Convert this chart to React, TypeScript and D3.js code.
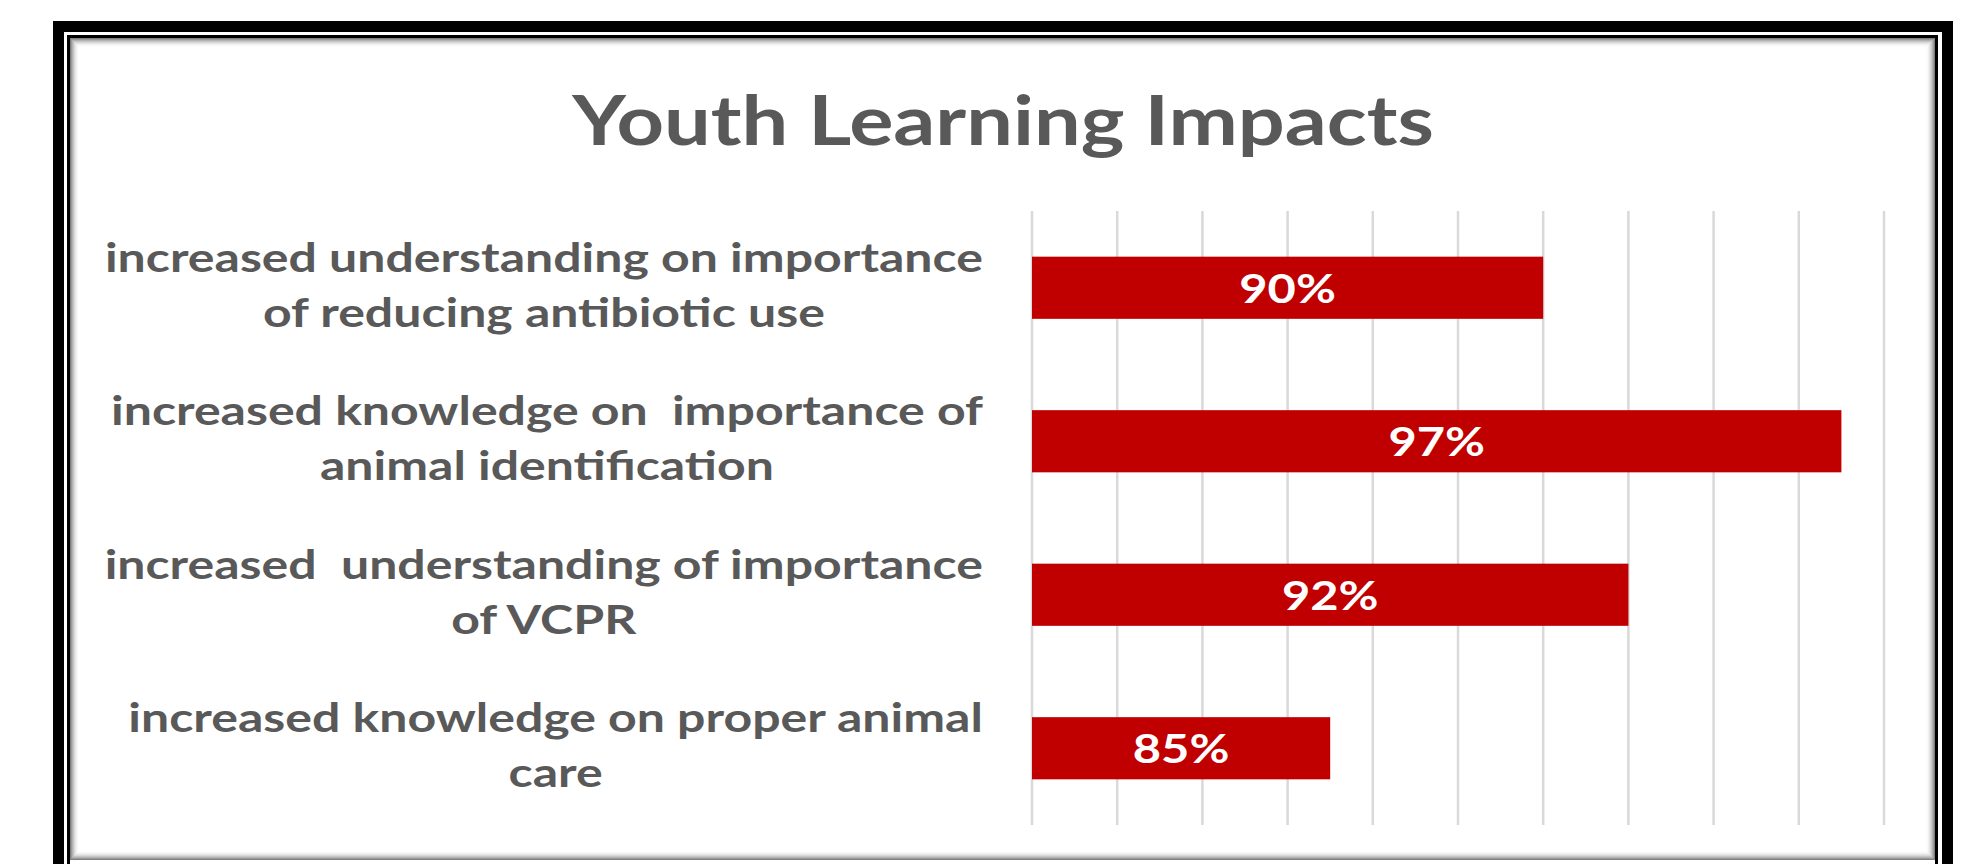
import * as d3 from "d3";
import React, {useEffect, useRef} from "react";

// chart content, top to bottom
const title = "Youth Learning Impacts";
const categories = [
  "increased understanding on importance\nof reducing antibiotic use",
  "increased knowledge on  importance of\nanimal identification",
  "increased  understanding of importance\nof VCPR",
  "increased knowledge on proper animal\ncare",
];
const values = [0.90, 0.97, 0.92, 0.85];
const axisDomain = [0.78, 0.98];
const gridStep = 0.02;

const W = 1984;
const H = 864;

const App: React.FC = () => {
  const svgRef = useRef<SVGSVGElement | null>(null);

  useEffect(() => {
    if (!svgRef.current) {
      return
    }
    const svg = d3.select(svgRef.current);
    svg.selectAll("*").remove();

    const font = "Lato, 'Open Sans', sans-serif";
    const grey = "#595959";
    // the source picture is stretched sideways, so text is widened to match
    const titleStretch = 1.2;
    const labelStretch = 1.25;
    const valueStretch = 1.19;

    // frame: thick black border, thin black line, shadowed panel
    svg.append("rect")
      .attr("x", 58.5).attr("y", 26.5)
      .attr("width", 1889).attr("height", 900)
      .attr("fill", "none").attr("stroke", "#000").attr("stroke-width", 11);
    svg.append("rect")
      .attr("x", 68.5).attr("y", 36.5)
      .attr("width", 1868).attr("height", 900)
      .attr("fill", "none").attr("stroke", "#000").attr("stroke-width", 3);

    const panel = {x: 70, y: 38, w: 1865, h: 822};
    svg.append("rect")
      .attr("x", panel.x).attr("y", panel.y)
      .attr("width", panel.w).attr("height", panel.h)
      .attr("fill", "#fff");
    d3.range(9).forEach(i => {
      svg.append("rect")
        .attr("x", panel.x + i + 0.5).attr("y", panel.y + i + 0.5)
        .attr("width", panel.w - 2 * i - 1).attr("height", panel.h - 2 * i - 1)
        .attr("fill", "none")
        .attr("stroke", "#000")
        .attr("stroke-opacity", 0.5 * Math.pow(1 - i / 9, 2));
    });

    svg.append("text")
      .attr("transform", `translate(1003,145) scale(${titleStretch},1)`)
      .attr("text-anchor", "middle")
      .attr("font-family", font).attr("font-weight", 700)
      .attr("font-size", 69).attr("fill", grey)
      .text(title);

    const plot = {left: 1032, right: 1884, top: 211, bottom: 825};

    const x = d3.scaleLinear().domain(axisDomain).range([plot.left, plot.right]);
    const y = d3.scaleBand<number>()
      .domain(d3.range(categories.length))
      .range([plot.top, plot.bottom])
      .paddingInner(0.595)
      .paddingOuter(0.2975);

    const ticks = d3.range(axisDomain[0], axisDomain[1] + gridStep / 2, gridStep);
    svg.append("g")
      .selectAll("line")
      .data(ticks)
      .enter().append("line")
      .attr("x1", d => x(d)).attr("x2", d => x(d))
      .attr("y1", plot.top).attr("y2", plot.bottom)
      .attr("stroke", "#d9d9d9").attr("stroke-width", 2.5);

    svg.append("g")
      .selectAll("rect")
      .data(values)
      .enter().append("rect")
      .attr("x", x(axisDomain[0]))
      .attr("y", (_, i) => y(i)!)
      .attr("width", d => x(d) - x(axisDomain[0]))
      .attr("height", y.bandwidth())
      .attr("fill", "#c00000");

    svg.append("g")
      .selectAll("text")
      .data(values)
      .enter().append("text")
      .attr("transform", (d, i) =>
        `translate(${(x(d) + x(axisDomain[0])) / 2},${y(i)! + y.bandwidth() / 2 + 15}) scale(${valueStretch},1)`)
      .attr("text-anchor", "middle")
      .attr("font-family", font).attr("font-weight", 700)
      .attr("font-size", 41).attr("fill", "#fff")
      .text(d => d3.format(".0%")(d));

    // category labels: lines centred on each other, block right-aligned
    const labelRight = 983;
    categories.forEach((label, i) => {
      const cy = y(i)! + y.bandwidth() / 2;
      const lines = label.split("\n");
      const g = svg.append("g");
      const texts = lines.map(line =>
        g.append("text")
          .attr("text-anchor", "middle")
          .attr("font-family", font).attr("font-weight", 700)
          .attr("font-size", 40).attr("fill", grey)
          .style("white-space", "pre")
          .text(line)
      );
      const widest = (d3.max(texts, t => (t.node() as SVGTextElement).getComputedTextLength()) || 0) * labelStretch;
      texts.forEach((t, j) =>
        t.attr("transform", `translate(${labelRight - widest / 2},${cy - 16 + j * 55}) scale(${labelStretch},1)`));
    });
  }, []);

  return (
    <svg
      ref={svgRef}
      width={W}
      height={H}
      style={{position: "absolute", left: 0, top: 0, background: "#fff"}}
    />
  );
}

export default App;
